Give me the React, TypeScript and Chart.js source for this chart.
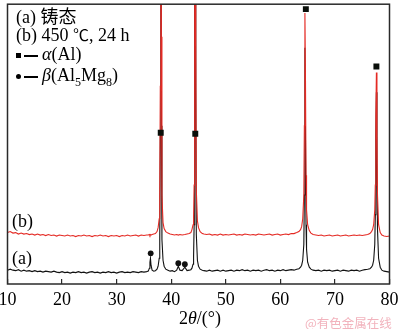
import React, { useEffect, useRef } from "react";
import { Chart, registerables } from "chart.js";
Chart.register(...registerables);

// 2θ range and tick labels
const X_MIN = 10;
const X_MAX = 80;
const X_STEP = 10;
const Y_MAX = 283;

// (a) as-cast pattern: [2θ, intensity]
const traceA: [number, number][] = [
  [10.0, 14], [10.5, 15], [11.0, 14], [11.5, 13.5], [12.0, 14.5], [12.5, 13], [13.0, 14], [13.5, 13],
  [14.0, 13.5], [14.5, 12.5], [15.0, 13.5], [15.5, 12.5], [16.0, 13], [16.5, 12], [17.0, 13], [17.5, 12.5],
  [18.0, 12], [18.5, 13], [19.0, 12], [19.5, 11.5], [20.0, 12.5], [20.5, 11.5], [21.0, 12], [21.5, 11],
  [22.0, 12], [22.5, 11.5], [23.0, 12.5], [23.5, 11.5], [24.0, 12], [24.5, 11], [25.0, 12], [25.5, 12.5],
  [26.0, 11.5], [26.5, 12], [27.0, 11], [27.5, 12], [28.0, 11.5], [28.5, 12.5], [29.0, 11.5], [29.5, 12],
  [30.0, 11], [30.5, 12], [31.0, 12.5], [31.5, 11.5], [32.0, 12], [32.5, 11.5], [33.0, 12.5], [33.5, 12],
  [34.0, 11.5], [34.5, 12.5], [35.0, 12], [35.5, 12.5],
  [35.8, 13], [36.0, 16], [36.1, 22], [36.2, 26], [36.3, 19], [36.5, 14], [36.8, 13],
  [37.1, 13.5], [37.4, 15], [37.6, 18], [37.8, 26], [37.9, 45], [38.0, 150], [38.1, 700], [38.2, 160],
  [38.3, 45], [38.5, 24], [38.7, 18], [39.0, 15], [39.4, 14],
  [39.8, 13], [40.2, 13.5], [40.6, 12.5], [41.0, 14], [41.3, 18], [41.6, 14], [42.0, 13.5], [42.5, 17],
  [42.9, 13.5], [43.3, 14],
  [43.6, 14.5], [43.8, 16], [44.0, 20], [44.1, 28], [44.2, 60], [44.3, 300], [44.4, 700], [44.5, 200],
  [44.6, 50], [44.8, 24], [45.0, 18], [45.3, 15], [45.7, 14],
  [46.0, 13.5], [46.5, 13], [47.0, 14], [47.5, 13], [48.0, 13.5], [48.5, 14], [49.0, 13], [49.5, 14],
  [50.0, 13], [50.5, 13.5], [51.0, 14], [51.5, 13], [52.0, 14], [52.5, 13.5], [53.0, 14.5], [53.5, 13.5],
  [54.0, 14], [54.5, 13], [55.0, 14], [55.5, 13.5], [56.0, 14], [56.5, 13], [57.0, 14], [57.5, 14.5],
  [58.0, 13.5], [58.5, 14], [59.0, 13], [59.5, 14], [60.0, 13.5], [60.5, 14.5], [61.0, 13.5], [61.5, 14],
  [62.0, 14.5], [62.5, 14], [63.0, 15],
  [63.4, 15.5], [63.7, 17], [63.9, 19], [64.1, 24], [64.3, 40], [64.4, 90], [64.5, 239], [64.6, 150],
  [64.7, 60], [64.8, 35], [65.0, 22], [65.3, 17], [65.6, 15], [66.0, 14],
  [66.5, 13.5], [67.0, 14], [67.5, 13], [68.0, 14], [68.5, 13.5], [69.0, 14], [69.5, 13], [70.0, 13.5],
  [70.5, 14], [71.0, 13], [71.5, 14], [72.0, 13.5], [72.5, 13], [73.0, 14], [73.5, 13.5], [74.0, 14],
  [74.5, 13], [75.0, 14], [75.5, 14.5], [76.0, 15],
  [76.4, 15.5], [76.7, 17], [76.9, 19], [77.1, 24], [77.3, 40], [77.4, 70], [77.5, 150], [77.6, 194],
  [77.7, 120], [77.8, 55], [78.0, 26], [78.3, 17], [78.6, 14],
  [79.0, 13], [79.5, 12.5], [80.0, 12],
];

// (b) 450 ℃, 24 h pattern: [2θ, intensity]
const traceB: [number, number][] = [
  [10.0, 52], [10.5, 53], [11.0, 51.5], [11.5, 52], [12.0, 50.5], [12.5, 51.5], [13.0, 50.5], [13.5, 51],
  [14.0, 50], [14.5, 50.5], [15.0, 49.5], [15.5, 50.5], [16.0, 49.5], [16.5, 50], [17.0, 49], [17.5, 50],
  [18.0, 49], [18.5, 49.5], [19.0, 48.5], [19.5, 49.5], [20.0, 49], [20.5, 48.5], [21.0, 49.5], [21.5, 48.5],
  [22.0, 49], [22.5, 48], [23.0, 49], [23.5, 48.5], [24.0, 49.5], [24.5, 48.5], [25.0, 49], [25.5, 48],
  [26.0, 49], [26.5, 48.5], [27.0, 49.5], [27.5, 48.5], [28.0, 49], [28.5, 48], [29.0, 49], [29.5, 48.5],
  [30.0, 49], [30.5, 48], [31.0, 49], [31.5, 48.5], [32.0, 49.5], [32.5, 48.5], [33.0, 49], [33.5, 49.5],
  [34.0, 48.5], [34.5, 49.5], [35.0, 49], [35.5, 49.5],
  [35.8, 49.5], [36.0, 50], [36.1, 49], [36.2, 50], [36.3, 49.5], [36.5, 50], [36.8, 50.5],
  [37.1, 51], [37.4, 53], [37.6, 57], [37.8, 66], [37.9, 90], [38.0, 200], [38.1, 700], [38.2, 250],
  [38.3, 90], [38.5, 62], [38.7, 56], [39.0, 53], [39.4, 51.5],
  [39.8, 50.5], [40.2, 50], [40.6, 49.5], [41.0, 50], [41.3, 49.5], [41.6, 50], [42.0, 49.5], [42.5, 50],
  [42.9, 50.5], [43.3, 51],
  [43.6, 52], [43.8, 55], [44.0, 60], [44.1, 68], [44.2, 100], [44.3, 400], [44.4, 700], [44.5, 250],
  [44.6, 95], [44.8, 64], [45.0, 57], [45.3, 53], [45.7, 51],
  [46.0, 50.5], [46.5, 50], [47.0, 50.5], [47.5, 49.5], [48.0, 50], [48.5, 49.5], [49.0, 50.5], [49.5, 49.5],
  [50.0, 50], [50.5, 49.5], [51.0, 50], [51.5, 50.5], [52.0, 49.5], [52.5, 50], [53.0, 49.5], [53.5, 50.5],
  [54.0, 50], [54.5, 49.5], [55.0, 50], [55.5, 49.5], [56.0, 50.5], [56.5, 50], [57.0, 49.5], [57.5, 50],
  [58.0, 50.5], [58.5, 49.5], [59.0, 50], [59.5, 50.5], [60.0, 49.5], [60.5, 50], [61.0, 50.5], [61.5, 50],
  [62.0, 51], [62.5, 51], [63.0, 52],
  [63.4, 53], [63.7, 55], [63.9, 58], [64.1, 66], [64.3, 90], [64.4, 160], [64.5, 274], [64.6, 210],
  [64.7, 110], [64.8, 75], [65.0, 60], [65.3, 54], [65.6, 51.5], [66.0, 50],
  [66.5, 49.5], [67.0, 49], [67.5, 49.5], [68.0, 48.5], [68.5, 49], [69.0, 49.5], [69.5, 48.5], [70.0, 49],
  [70.5, 49.5], [71.0, 48.5], [71.5, 49], [72.0, 49.5], [72.5, 48.5], [73.0, 49], [73.5, 49.5], [74.0, 49],
  [74.5, 49.5], [75.0, 49], [75.5, 49.5], [76.0, 50],
  [76.4, 51], [76.7, 53], [76.9, 55], [77.1, 60], [77.3, 75], [77.4, 100], [77.5, 170], [77.6, 214],
  [77.7, 150], [77.8, 90], [78.0, 60], [78.3, 52], [78.6, 49.5],
  [79.0, 48.5], [79.5, 48], [80.0, 48.5],
];

// phase markers: [2θ, height]
const alphaMarks: [number, number][] = [[38.08, 153], [44.41, 152], [64.67, 278], [77.6, 220]];
const betaMarks: [number, number][] = [[36.24, 31], [41.3, 21], [42.5, 20]];

const SERIF = "'Liberation Serif', 'Times New Roman', serif";
const CJK = "'Noto Sans CJK SC', sans-serif";

const toXY = (arr: [number, number][]) => arr.map(([x, y]) => ({ x, y }));

const framePlugin = {
  id: "frame",
  afterDraw(chart: any) {
    const { ctx, chartArea } = chart;
    ctx.save();
    ctx.strokeStyle = "#2a2a2a";
    ctx.lineWidth = 1.5;
    ctx.strokeRect(chartArea.left, chartArea.top, chartArea.right - chartArea.left, chartArea.bottom - chartArea.top);
    ctx.restore();
  },
};

export default function App() {
  const ref = useRef<HTMLCanvasElement | null>(null);
  useEffect(() => {
    if (!ref.current) return;
    const chart = new Chart(ref.current, {
      type: "scatter",
      data: {
        datasets: [
          {
            data: toXY(alphaMarks),
            pointStyle: "rect",
            pointRadius: 4.2,
            backgroundColor: "#0a0f0a",
            borderColor: "#0a0f0a",
            borderWidth: 0,
            showLine: false,
          },
          {
            data: toXY(betaMarks),
            pointStyle: "circle",
            pointRadius: 2.9,
            backgroundColor: "#111",
            borderColor: "#111",
            borderWidth: 0,
            showLine: false,
          },
          {
            data: toXY(traceB),
            showLine: true,
            borderColor: "#e42a24",
            borderWidth: 1.1,
            pointRadius: 0,
            tension: 0,
          },
          {
            data: toXY(traceA),
            showLine: true,
            borderColor: "#111",
            borderWidth: 1.1,
            pointRadius: 0,
            tension: 0,
          },
        ],
      },
      options: {
        animation: false,
        responsive: false,
        devicePixelRatio: 1,
        layout: { padding: { left: 7.5, right: 10.5, top: 1, bottom: 0 } },
        plugins: { legend: { display: false }, tooltip: { enabled: false } },
        scales: {
          x: {
            type: "linear",
            min: X_MIN,
            max: X_MAX,
            border: { display: false },
            grid: { drawOnChartArea: false, drawTicks: true, tickLength: -5, color: "#2a2a2a", lineWidth: 1.2 },
            ticks: {
              stepSize: X_STEP,
              padding: 10,
              color: "#000",
              font: { family: SERIF, size: 18 },
              maxRotation: 0,
            },
            afterFit: (scale: any) => {
              scale.paddingLeft = 0;
              scale.paddingRight = 0;
              scale.height = 45;
            },
          },
          y: { min: 0, max: Y_MAX, display: false },
        },
      },
      plugins: [framePlugin],
    });
    return () => chart.destroy();
  }, []);

  const txt: React.CSSProperties = {
    position: "absolute",
    fontFamily: SERIF,
    fontSize: 18,
    lineHeight: "20px",
    color: "#000",
    whiteSpace: "nowrap",
  };

  return (
    <div style={{ position: "fixed", left: 0, top: 0, width: 400, height: 329, background: "#fff" }}>
      <canvas ref={ref} width={400} height={329} style={{ display: "block", width: 400, height: 329 }} />
      <div style={{ ...txt, left: 16, top: 5 }}>
        (a) <span style={{ fontFamily: CJK, fontSize: 18 }}>铸态</span>
      </div>
      <div style={{ ...txt, left: 16, top: 24 }}>
        (b) 450 <span style={{ fontFamily: CJK, fontSize: 16 }}>℃</span>, 24 h
      </div>
      <div style={{ ...txt, left: 16, top: 44 }}>
        <span style={{ display: "inline-block", width: 5, height: 5, background: "#000", verticalAlign: "middle", marginRight: 3 }} />
        <span style={{ display: "inline-block", width: 14, height: 1.3, background: "#000", verticalAlign: "middle", marginRight: 4 }} />
        <i>α</i>(Al)
      </div>
      <div style={{ ...txt, left: 16, top: 65 }}>
        <span style={{ display: "inline-block", width: 5, height: 5, borderRadius: "50%", background: "#000", verticalAlign: "middle", marginRight: 3 }} />
        <span style={{ display: "inline-block", width: 14, height: 1.3, background: "#000", verticalAlign: "middle", marginRight: 4 }} />
        <i>β</i>(Al<sub style={{ fontSize: 12 }}>5</sub>Mg<sub style={{ fontSize: 12 }}>8</sub>)
      </div>
      <div style={{ ...txt, left: 12, top: 211 }}>(b)</div>
      <div style={{ ...txt, left: 12, top: 248 }}>(a)</div>
      <div style={{ ...txt, left: 0, width: 400, textAlign: "center", top: 308 }}>
        2<i>θ</i>/(°)
      </div>
      <div style={{ position: "absolute", left: 305, top: 313, fontFamily: CJK, fontSize: 12.5, color: "#f2b3bd", whiteSpace: "nowrap" }}>
        @有色金属在线
      </div>
    </div>
  );
}
